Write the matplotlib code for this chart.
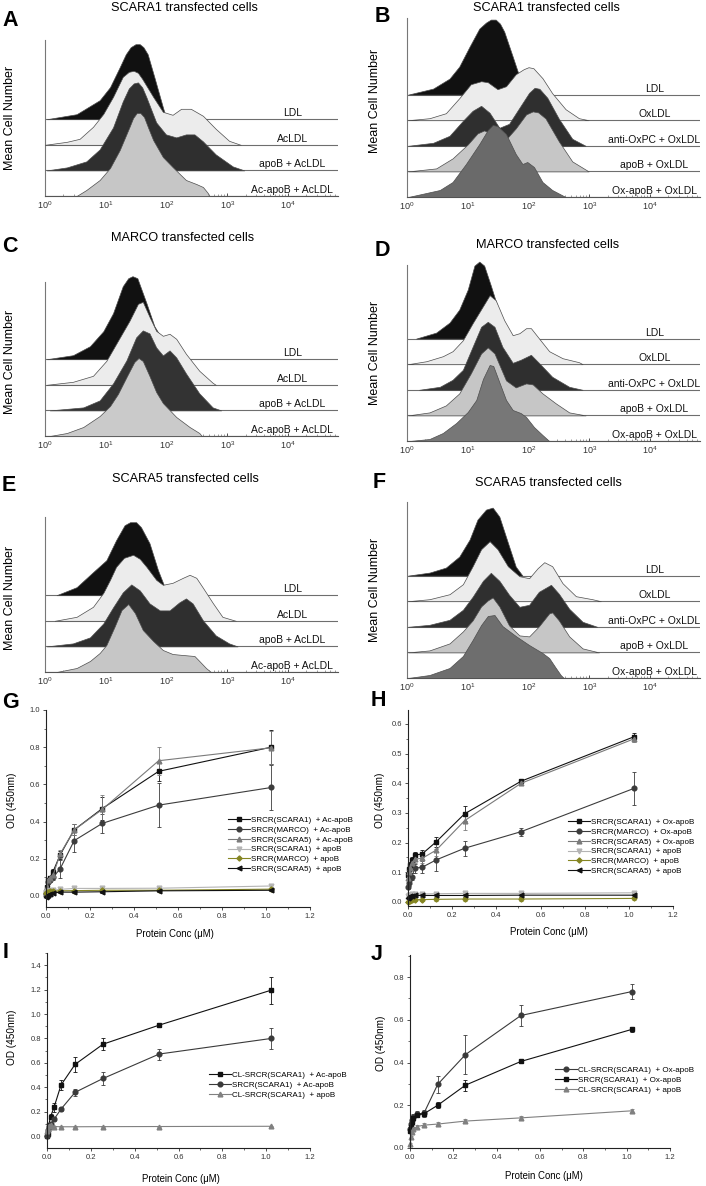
import numpy as np
import matplotlib
matplotlib.use('Agg')
import matplotlib.pyplot as plt
from matplotlib.ticker import (AutoMinorLocator, MultipleLocator, LogLocator,
                               FormatStrFormatter, NullFormatter)

plt.rcParams['font.family'] = ['Liberation Sans', 'DejaVu Sans']
plt.rcParams['mathtext.fontset'] = 'custom'
plt.rcParams['mathtext.rm'] = 'Liberation Sans'
plt.rcParams['mathtext.it'] = 'Liberation Sans:italic'
plt.rcParams['mathtext.bf'] = 'Liberation Sans:bold'

# ---------------- flow cytometry histograms: (log10 intensity, height) ----------------
A_LDL = [(0.03, 0), (0.52, 5), (0.9, 19), (1.07, 32), (1.23, 52), (1.33, 65), (1.41, 72),
         (1.49, 75), (1.56, 75), (1.62, 72), (1.69, 65), (1.8, 42), (1.94, 12), (2.0, 0)]
A_ACLDL = [(0.0, 0), (0.36, 3), (0.57, 6), (0.79, 18), (0.96, 31), (1.12, 48), (1.28, 68),
           (1.38, 73), (1.46, 74), (1.53, 72), (1.6, 66), (1.78, 48), (1.94, 33), (2.1, 30),
           (2.24, 36), (2.4, 36), (2.6, 29), (2.81, 16), (3.03, 4), (3.22, 0)]
A_APOB = [(0.03, 0), (0.36, 3), (0.68, 9), (0.9, 21), (1.12, 43), (1.28, 69), (1.38, 82),
          (1.46, 87), (1.53, 88), (1.6, 83), (1.67, 73), (1.83, 48), (1.99, 36), (2.16, 33),
          (2.32, 36), (2.46, 36), (2.6, 29), (2.81, 16), (3.09, 4), (3.28, 0)]
A_ACAPOB = [(0.52, 0), (0.68, 6), (0.9, 16), (1.07, 28), (1.23, 46), (1.39, 69), (1.45, 78),
            (1.51, 83), (1.57, 83), (1.63, 79), (1.7, 68), (1.78, 56), (1.94, 39), (2.1, 29),
            (2.32, 16), (2.49, 12), (2.6, 9), (2.68, 3), (2.7, 0)]

B_LDL = [(0.02, 0), (0.43, 6), (0.7, 16), (0.86, 28), (1.03, 48), (1.19, 66), (1.3, 72),
         (1.38, 75), (1.46, 75), (1.53, 71), (1.6, 63), (1.74, 38), (1.85, 18), (1.96, 0)]
B_OXLDL = [(0.02, 0), (0.37, 2), (0.64, 7), (0.86, 22), (1.05, 36), (1.22, 39), (1.33, 38),
           (1.49, 31), (1.63, 34), (1.79, 46), (1.92, 51), (2.0, 53), (2.08, 52), (2.23, 42),
           (2.39, 27), (2.61, 11), (2.83, 2), (2.99, 0)]
B_ANTI = [(0.02, 0), (0.43, 3), (0.7, 10), (0.92, 25), (1.08, 35), (1.22, 40), (1.36, 33),
          (1.52, 18), (1.68, 22), (1.85, 38), (2.01, 53), (2.1, 58), (2.18, 57), (2.31, 48),
          (2.5, 27), (2.72, 7), (2.94, 0)]
B_APOB = [(0.02, 0), (0.48, 3), (0.75, 13), (1.0, 27), (1.16, 38), (1.27, 41), (1.41, 37),
          (1.6, 30), (1.79, 43), (1.96, 57), (2.07, 60), (2.16, 59), (2.28, 53), (2.5, 30),
          (2.72, 10), (2.99, 0)]
B_OXAPOB = [(0.02, 0), (0.54, 7), (0.75, 15), (0.97, 33), (1.19, 53), (1.33, 67), (1.41, 72),
            (1.49, 71), (1.63, 63), (1.79, 43), (1.9, 33), (1.98, 35), (2.09, 30), (2.23, 15),
            (2.39, 7), (2.61, 0)]

C_LDL = [(0.03, 0), (0.46, 4), (0.74, 13), (0.96, 28), (1.12, 46), (1.28, 73), (1.37, 81),
         (1.44, 83), (1.52, 81), (1.67, 56), (1.8, 33), (1.94, 19), (2.05, 0)]
C_ACLDL = [(0.03, 0), (0.46, 3), (0.79, 9), (1.01, 24), (1.2, 44), (1.39, 64), (1.53, 81),
           (1.61, 83), (1.72, 68), (1.83, 54), (1.94, 49), (2.05, 51), (2.16, 46), (2.32, 31),
           (2.54, 14), (2.76, 2), (2.81, 0)]
C_APOB = [(0.08, 0), (0.63, 3), (0.9, 10), (1.12, 27), (1.34, 50), (1.5, 73), (1.61, 80),
          (1.72, 77), (1.83, 63), (1.94, 55), (2.05, 60), (2.16, 53), (2.32, 37), (2.54, 17),
          (2.76, 3), (2.9, 0)]
C_ACAPOB = [(0.08, 0), (0.36, 3), (0.63, 9), (0.9, 20), (1.07, 30), (1.2, 42), (1.35, 60),
            (1.47, 74), (1.54, 78), (1.61, 75), (1.72, 60), (1.83, 44), (1.94, 33), (2.16, 19),
            (2.38, 9), (2.54, 3), (2.58, 0)]

D_LDL = [(0.15, 0), (0.48, 6), (0.7, 16), (0.86, 29), (1.0, 49), (1.11, 73), (1.19, 77),
         (1.27, 73), (1.38, 53), (1.52, 26), (1.68, 6), (1.79, 0)]
D_OXLDL = [(0.02, 0), (0.32, 3), (0.59, 8), (0.75, 13), (0.92, 24), (1.08, 41), (1.25, 58),
           (1.36, 69), (1.46, 64), (1.6, 44), (1.74, 29), (1.85, 31), (1.96, 36), (2.04, 36),
           (2.17, 26), (2.34, 13), (2.56, 6), (2.83, 2), (2.89, 0)]
D_ANTI = [(0.2, 0), (0.54, 3), (0.75, 10), (0.92, 20), (1.08, 43), (1.22, 63), (1.33, 68),
          (1.44, 63), (1.57, 43), (1.74, 27), (1.87, 30), (2.04, 35), (2.17, 27), (2.39, 13),
          (2.67, 3), (2.89, 0)]
D_APOB = [(0.02, 0), (0.37, 3), (0.64, 10), (0.86, 22), (1.05, 42), (1.22, 62), (1.33, 68),
          (1.44, 62), (1.63, 35), (1.79, 28), (1.96, 32), (2.07, 31), (2.23, 22), (2.45, 12),
          (2.67, 3), (2.94, 0)]
D_OXAPOB = [(0.04, 0), (0.37, 2), (0.59, 8), (0.81, 18), (1.0, 29), (1.14, 41), (1.25, 62),
            (1.36, 76), (1.42, 75), (1.5, 62), (1.63, 41), (1.74, 31), (1.87, 28), (1.96, 24),
            (2.09, 14), (2.23, 6), (2.34, 0)]

E_LDL = [(0.19, 0), (0.52, 8), (0.79, 23), (1.01, 35), (1.17, 55), (1.31, 70), (1.4, 73),
         (1.5, 73), (1.58, 68), (1.72, 52), (1.86, 25), (1.97, 8), (2.02, 0)]
E_ACLDL = [(0.16, 0), (0.52, 4), (0.79, 14), (0.96, 28), (1.07, 41), (1.17, 54), (1.3, 63),
           (1.45, 66), (1.56, 62), (1.67, 54), (1.83, 41), (1.94, 36), (2.1, 38), (2.27, 43),
           (2.38, 46), (2.49, 43), (2.6, 33), (2.76, 18), (2.92, 4), (3.14, 0)]
E_APOB = [(0.03, 0), (0.46, 3), (0.74, 9), (0.96, 23), (1.12, 39), (1.28, 54), (1.42, 62),
          (1.56, 56), (1.72, 43), (1.89, 36), (2.05, 36), (2.21, 44), (2.32, 48), (2.43, 43),
          (2.6, 26), (2.81, 11), (3.03, 3), (3.17, 0)]
E_ACAPOB = [(0.19, 0), (0.52, 4), (0.74, 11), (0.9, 19), (1.01, 27), (1.15, 46), (1.26, 62),
            (1.37, 68), (1.48, 59), (1.61, 42), (1.78, 31), (1.94, 22), (2.1, 18), (2.27, 17),
            (2.46, 16), (2.54, 11), (2.65, 4), (2.73, 0)]

F_LDL = [(0.02, 0), (0.37, 3), (0.64, 8), (0.86, 19), (1.03, 36), (1.16, 56), (1.3, 66),
         (1.41, 68), (1.52, 59), (1.66, 33), (1.79, 9), (1.9, 0)]
F_OXLDL = [(0.02, 0), (0.37, 2), (0.7, 7), (0.92, 17), (1.08, 35), (1.22, 52), (1.36, 60),
           (1.49, 52), (1.66, 35), (1.85, 25), (2.01, 23), (2.15, 33), (2.26, 39), (2.39, 35),
           (2.56, 18), (2.78, 5), (3.05, 2), (3.19, 0)]
F_ANTI = [(0.02, 0), (0.37, 2), (0.7, 7), (0.92, 17), (1.08, 30), (1.25, 46), (1.38, 54),
          (1.52, 46), (1.68, 32), (1.85, 20), (2.01, 22), (2.17, 35), (2.37, 42), (2.5, 33),
          (2.67, 18), (2.89, 5), (3.13, 0)]
F_APOB = [(0.02, 0), (0.37, 2), (0.7, 9), (0.92, 21), (1.08, 32), (1.22, 46), (1.33, 52),
          (1.41, 55), (1.52, 46), (1.68, 27), (1.85, 17), (2.01, 16), (2.17, 26), (2.34, 39),
          (2.39, 40), (2.5, 32), (2.67, 16), (2.89, 4), (3.16, 0)]
F_OXAPOB = [(0.02, 0), (0.37, 3), (0.7, 10), (0.92, 22), (1.08, 38), (1.22, 53), (1.33, 62),
            (1.44, 63), (1.57, 52), (1.79, 42), (2.01, 33), (2.23, 25), (2.34, 20), (2.45, 10),
            (2.53, 3), (2.58, 0)]

AC_NAMES = ['LDL', 'AcLDL', 'apoB + AcLDL', 'Ac-apoB + AcLDL']
OX_NAMES = ['LDL', 'OxLDL', 'anti-OxPC + OxLDL', 'apoB + OxLDL', 'Ox-apoB + OxLDL']

# ---------------- binding ELISA ----------------
X_CONC = [0.002, 0.004, 0.008, 0.016, 0.032, 0.064, 0.128, 0.256, 0.512, 1.024]

G_SC1_AC = [0.02, 0.05, 0.085, 0.095, 0.13, 0.22, 0.355, 0.47, 0.67, 0.80]
G_SC1_AC_ERR = [0.005, 0.008, 0.01, 0.01, 0.012, 0.02, 0.03, 0.06, 0.05, 0.09]
G_MAR_AC = [0.01, 0.03, 0.075, 0.085, 0.10, 0.145, 0.297, 0.39, 0.488, 0.583]
G_MAR_AC_ERR = [0.005, 0.008, 0.01, 0.01, 0.015, 0.05, 0.06, 0.05, 0.12, 0.12]
G_SC5_AC = [0.02, 0.05, 0.085, 0.095, 0.11, 0.225, 0.355, 0.465, 0.727, 0.797]
G_SC5_AC_ERR = [0.005, 0.008, 0.01, 0.01, 0.012, 0.02, 0.03, 0.08, 0.075, 0.09]
G_SC1_B = [0.02, 0.022, 0.025, 0.027, 0.03, 0.035, 0.04, 0.04, 0.041, 0.053]
G_MAR_B = [0.015, 0.02, 0.022, 0.025, 0.025, 0.027, 0.028, 0.03, 0.03, 0.036]
G_SC5_B = [-0.005, 0.0, 0.005, 0.012, 0.015, 0.02, 0.02, 0.022, 0.027, 0.03]
G_B_ERR = [0.004, 0.004, 0.005, 0.005, 0.005, 0.005, 0.006, 0.006, 0.006, 0.006]

H_SC1_OX = [0.09, 0.11, 0.125, 0.14, 0.158, 0.162, 0.203, 0.297, 0.407, 0.557]
H_SC1_OX_ERR = [0.005, 0.008, 0.01, 0.012, 0.012, 0.012, 0.017, 0.025, 0.006, 0.012]
H_MAR_OX = [0.05, 0.065, 0.08, 0.085, 0.114, 0.117, 0.142, 0.181, 0.237, 0.383]
H_MAR_OX_ERR = [0.005, 0.01, 0.01, 0.012, 0.015, 0.02, 0.038, 0.025, 0.013, 0.055]
H_SC5_OX = [0.08, 0.10, 0.115, 0.13, 0.145, 0.147, 0.175, 0.274, 0.40, 0.55]
H_SC5_OX_ERR = [0.005, 0.01, 0.01, 0.012, 0.015, 0.015, 0.02, 0.03, 0.006, 0.012]
H_SC1_B = [0.02, 0.022, 0.024, 0.026, 0.027, 0.027, 0.028, 0.029, 0.029, 0.031]
H_MAR_B = [0.0, 0.003, 0.005, 0.007, 0.008, 0.008, 0.009, 0.01, 0.01, 0.012]
H_SC5_B = [0.015, 0.018, 0.02, 0.021, 0.022, 0.022, 0.022, 0.022, 0.023, 0.023]
H_B_ERR = [0.004, 0.004, 0.005, 0.005, 0.006, 0.006, 0.006, 0.006, 0.006, 0.006]

I_CL_AC = [0.0, 0.02, 0.09, 0.158, 0.235, 0.418, 0.587, 0.753, 0.909, 1.196]
I_CL_AC_ERR = [0.005, 0.01, 0.015, 0.02, 0.035, 0.04, 0.06, 0.05, 0.012, 0.11]
I_SR_AC = [0.0, 0.05, 0.07, 0.10, 0.137, 0.221, 0.358, 0.472, 0.672, 0.80]
I_SR_AC_ERR = [0.005, 0.01, 0.01, 0.01, 0.015, 0.015, 0.03, 0.055, 0.045, 0.085]
I_CL_B = [0.04, 0.06, 0.08, 0.09, 0.078, 0.076, 0.076, 0.077, 0.078, 0.08]
I_CL_B_ERR = [0.005, 0.005, 0.006, 0.006, 0.006, 0.006, 0.006, 0.006, 0.006, 0.006]

J_CL_OX = [0.09, 0.11, 0.13, 0.146, 0.16, 0.162, 0.298, 0.437, 0.62, 0.732]
J_CL_OX_ERR = [0.005, 0.01, 0.01, 0.015, 0.015, 0.015, 0.04, 0.09, 0.05, 0.035]
J_SR_OX = [0.08, 0.10, 0.12, 0.14, 0.155, 0.16, 0.20, 0.294, 0.405, 0.555]
J_SR_OX_ERR = [0.005, 0.008, 0.01, 0.01, 0.012, 0.012, 0.015, 0.025, 0.008, 0.01]
J_CL_B = [0.02, 0.05, 0.075, 0.09, 0.10, 0.107, 0.112, 0.126, 0.141, 0.174]
J_CL_B_ERR = [0.005, 0.008, 0.01, 0.01, 0.008, 0.008, 0.008, 0.008, 0.008, 0.008]

W, H = 706, 1186
fig = plt.figure(figsize=(W / 100, H / 100), dpi=100)

DEC = 60.75   # px per decade
STEP = 25.6   # px between stacked histogram baselines

BLACK, LIGHT, DARK, LGRAY = '#111111', '#ececec', '#2f2f2f', '#c6c6c6'


def px_axes(l, t, r, b):
    return fig.add_axes([l / W, 1 - b / H, (r - l) / W, (b - t) / H])


def ftext(x, y, s, **kw):
    fig.text(x / W, 1 - y / H, s, **kw)


def hist_panel(box, curves, names, colors, title, title_xy, letter, letter_xy, ylab_xy):
    l, t, r, b = box
    ax = px_axes(l, t, r, b)
    ax.set_xscale('log')
    ax.set_xlim(1, 10 ** ((r - l) / DEC))
    ax.set_ylim(0, b - t)
    n = len(curves)
    for i, (pts, name, col) in enumerate(zip(curves, names, colors)):
        off = (n - 1 - i) * STEP
        d = np.array([p[0] for p in pts])
        h = np.array([p[1] for p in pts])
        ax.axhline(off, color='#6e6e6e', lw=0.8, zorder=2 * i + 1)
        ax.fill_between(10 ** d, off, off + h, facecolor=col, edgecolor='#4d4d4d',
                        lw=0.5, zorder=2 * i + 2, clip_on=False)
        ax.text(10 ** 4.07, off + 6, name, ha='center', va='center',
                fontsize=7.5, color='#111111', zorder=30)
    for s in ('top', 'right'):
        ax.spines[s].set_visible(False)
    ax.spines['left'].set_color('#777777')
    ax.spines['bottom'].set_color('#555555')
    ax.spines['left'].set_linewidth(0.8)
    ax.spines['bottom'].set_linewidth(0.8)
    ax.set_yticks([])
    ax.set_xticks([1, 10, 100, 1000, 10000])
    ax.xaxis.set_minor_locator(LogLocator(base=10, subs=np.arange(2, 10), numticks=60))
    ax.xaxis.set_minor_formatter(NullFormatter())
    ax.tick_params(axis='x', which='major', direction='in', length=2.5, width=0.6,
                   labelsize=6.5, pad=2.5, colors='#333333')
    ax.tick_params(axis='x', which='minor', direction='in', length=1.5, width=0.4,
                   colors='#555555')
    ax.patch.set_alpha(0)
    ftext(*title_xy, title, ha='center', va='center', fontsize=9.2)
    ftext(*letter_xy, letter, ha='left', va='center', fontsize=15.5, fontweight='bold')
    ftext(*ylab_xy, 'Mean Cell Number', rotation=90, ha='center', va='center', fontsize=9)


def line_panel(box, ylim, ystep, series, letter, letter_xy, xlab_xy, ylab_xy, leg_xy):
    l, t, r, b = box
    ax = px_axes(l, t, r, b)
    ax.set_xlim(0, 1.2)
    ax.set_ylim(*ylim)
    handles, labels = [], []
    for y, err, mk, col, ms, lab in series:
        cont = ax.errorbar(X_CONC, y, yerr=err, fmt='-' + mk, color=col, ms=ms, lw=0.8,
                           elinewidth=0.6, capsize=1.5, capthick=0.6)
        cont[0].set_clip_on(False)
        handles.append(cont[0])
        labels.append(lab)
    ax.xaxis.set_major_locator(MultipleLocator(0.2))
    ax.xaxis.set_minor_locator(AutoMinorLocator(2))
    ax.yaxis.set_major_locator(MultipleLocator(ystep))
    ax.yaxis.set_minor_locator(AutoMinorLocator(2))
    ax.xaxis.set_major_formatter(FormatStrFormatter('%.1f'))
    ax.yaxis.set_major_formatter(FormatStrFormatter('%.1f'))
    for s in ('top', 'right'):
        ax.spines[s].set_visible(False)
    for s in ('left', 'bottom'):
        ax.spines[s].set_color('#222222')
        ax.spines[s].set_linewidth(0.8)
    ax.tick_params(which='major', direction='out', length=2.5, width=0.6,
                   labelsize=5.5, pad=1.5, colors='#333333')
    ax.tick_params(which='minor', direction='out', length=1.5, width=0.5, colors='#333333')
    ax.patch.set_alpha(0)
    ax.legend(handles, labels, loc='upper left',
              bbox_to_anchor=(leg_xy[0] / W, 1 - leg_xy[1] / H),
              bbox_transform=fig.transFigure, frameon=False, fontsize=5.8,
              handlelength=2.7, handletextpad=0.2, labelspacing=0.26,
              borderpad=0, borderaxespad=0, numpoints=1)
    ftext(*letter_xy, letter, ha='left', va='center', fontsize=15.5, fontweight='bold')
    ftext(*xlab_xy, 'Protein Conc (\u03bcM)', ha='center', va='center', fontsize=6.9)
    ftext(*ylab_xy, 'OD (450nm)', rotation=90, ha='center', va='center', fontsize=7.2)


AC_COLORS = [BLACK, LIGHT, DARK, LGRAY]

hist_panel((45, 40, 338, 196), [A_LDL, A_ACLDL, A_APOB, A_ACAPOB], AC_NAMES, AC_COLORS,
           'SCARA1 transfected cells', (184, 8), 'A', (2, 20), (10, 118))
hist_panel((407, 18, 700, 197), [B_LDL, B_OXLDL, B_ANTI, B_APOB, B_OXAPOB], OX_NAMES,
           [BLACK, LIGHT, DARK, LGRAY, '#6a6a6a'],
           'SCARA1 transfected cells', (546, 8), 'B', (375, 17), (375, 101))
hist_panel((45, 282, 338, 436), [C_LDL, C_ACLDL, C_APOB, C_ACAPOB], AC_NAMES,
           [BLACK, LIGHT, '#333333', '#cacaca'],
           'MARCO transfected cells', (183, 238), 'C', (2, 246), (10, 362))
hist_panel((407, 265, 700, 441), [D_LDL, D_OXLDL, D_ANTI, D_APOB, D_OXAPOB], OX_NAMES,
           [BLACK, LIGHT, DARK, LGRAY, '#777777'],
           'MARCO transfected cells', (548, 245), 'D', (375, 251), (375, 353))
hist_panel((45, 517, 338, 672), [E_LDL, E_ACLDL, E_APOB, E_ACAPOB], AC_NAMES, AC_COLORS,
           'SCARA5 transfected cells', (185, 479), 'E', (2, 486), (10, 598))
hist_panel((407, 502, 700, 678), [F_LDL, F_OXLDL, F_ANTI, F_APOB, F_OXAPOB], OX_NAMES,
           [BLACK, LIGHT, DARK, LGRAY, '#6e6e6e'],
           'SCARA5 transfected cells', (548, 483), 'F', (373, 482), (375, 590))

OLIVE = '#858522'
line_panel((46, 710, 310, 907), (-0.06, 1.0), 0.2, [
    (G_SC1_AC, G_SC1_AC_ERR, 's', '#111111', 3.0, 'SRCR(SCARA1)  + Ac-apoB'),
    (G_MAR_AC, G_MAR_AC_ERR, 'o', '#3c3c3c', 3.4, 'SRCR(MARCO)  + Ac-apoB'),
    (G_SC5_AC, G_SC5_AC_ERR, '^', '#7a7a7a', 3.4, 'SRCR(SCARA5)  + Ac-apoB'),
    (G_SC1_B, G_B_ERR, 'v', '#b4b4b4', 3.4, 'SRCR(SCARA1)  + apoB'),
    (G_MAR_B, G_B_ERR, 'D', OLIVE, 2.6, 'SRCR(MARCO)  + apoB'),
    (G_SC5_B, G_B_ERR, '<', '#111111', 3.4, 'SRCR(SCARA5)  + apoB'),
], 'G', (2, 702), (175, 934), (12, 800), (228, 816.5))

line_panel((408, 710, 673, 906), (-0.0135, 0.647), 0.1, [
    (H_SC1_OX, H_SC1_OX_ERR, 's', '#111111', 3.0, 'SRCR(SCARA1)  + Ox-apoB'),
    (H_MAR_OX, H_MAR_OX_ERR, 'o', '#3c3c3c', 3.4, 'SRCR(MARCO)  + Ox-apoB'),
    (H_SC5_OX, H_SC5_OX_ERR, '^', '#7a7a7a', 3.4, 'SRCR(SCARA5)  + Ox-apoB'),
    (H_SC1_B, H_B_ERR, 'v', '#b4b4b4', 3.4, 'SRCR(SCARA1)  + apoB'),
    (H_MAR_B, H_B_ERR, 'D', OLIVE, 2.6, 'SRCR(MARCO)  + apoB'),
    (H_SC5_B, H_B_ERR, '<', '#111111', 3.4, 'SRCR(SCARA5)  + apoB'),
], 'H', (371, 700), (549, 932), (380, 800), (568, 818.5))

line_panel((47, 953, 310, 1148), (-0.098, 1.5), 0.2, [
    (I_CL_AC, I_CL_AC_ERR, 's', '#111111', 3.0, 'CL-SRCR(SCARA1)  + Ac-apoB'),
    (I_SR_AC, I_SR_AC_ERR, 'o', '#3a3a3a', 3.4, 'SRCR(SCARA1)  + Ac-apoB'),
    (I_CL_B, I_CL_B_ERR, '^', '#808080', 3.4, 'CL-SRCR(SCARA1)  + apoB'),
], 'I', (3, 952), (181, 1179), (12, 1037), (209, 1071.5))

line_panel((410, 955, 670, 1148), (0, 0.903), 0.2, [
    (J_CL_OX, J_CL_OX_ERR, 'o', '#3a3a3a', 3.4, 'CL-SRCR(SCARA1)  + Ox-apoB'),
    (J_SR_OX, J_SR_OX_ERR, 's', '#111111', 3.0, 'SRCR(SCARA1)  + Ox-apoB'),
    (J_CL_B, J_CL_B_ERR, '^', '#808080', 3.4, 'CL-SRCR(SCARA1)  + apoB'),
], 'J', (371, 955), (544, 1176), (381, 1043), (555, 1066.5))

fig.savefig('out.png', dpi=100)
